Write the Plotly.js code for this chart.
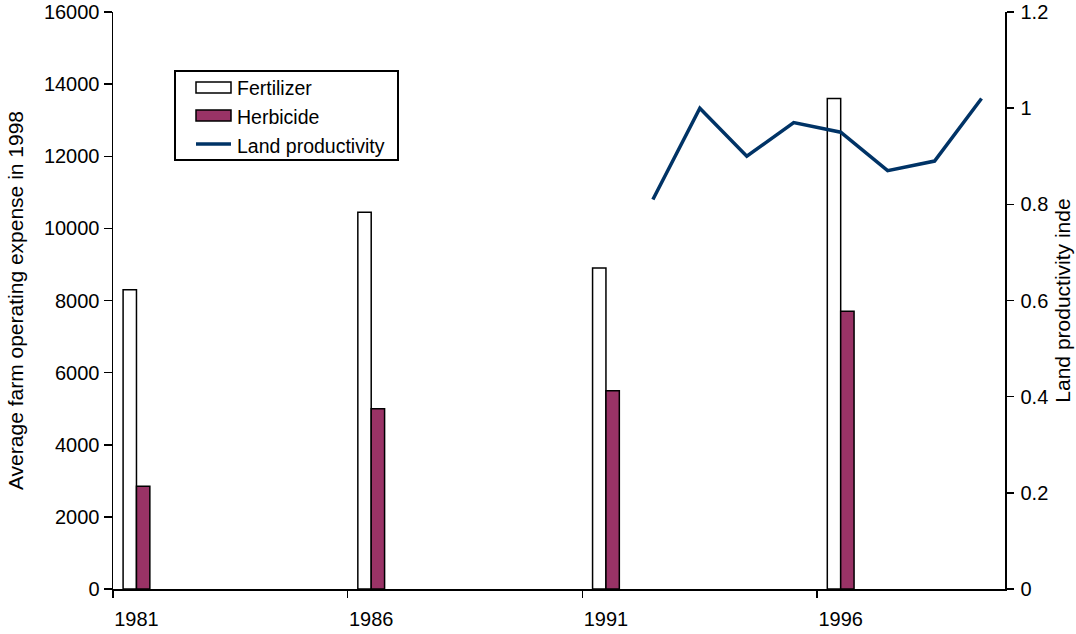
<!DOCTYPE html>
<html>
<head>
<meta charset="utf-8">
<script src="https://cdn.plot.ly/plotly-3.0.1.min.js"></script>
<style>
  html, body { margin: 0; padding: 0; background: #fff; }
  #chart { width: 1076px; height: 634px; }
</style>
</head>
<body>
<div id="chart"></div>
<script>
// Every year on the category axis
const years = ['1981','1982','1983','1984','1985','1986','1987','1988','1989','1990',
               '1991','1992','1993','1994','1995','1996','1997','1998','1999'];

// Survey years with expense data (left axis)
const surveyYears = ['1981', '1986', '1991', '1996'];
const fertilizer = [8300, 10450, 8900, 13600];
const herbicide  = [2850, 5000, 5500, 7700];

// Land productivity index (right axis)
const productivityYears = ['1992','1993','1994','1995','1996','1997','1998','1999'];
const productivity      = [0.81, 1.00, 0.90, 0.97, 0.95, 0.87, 0.89, 1.02];

const seriesNames = ['Fertilizer', 'Herbicide', 'Land productivity'];

const FONT = 'Liberation Sans, Arial, Helvetica, sans-serif';
const PLUM = '#993366';
const NAVY = '#003366';

const traces = [
  {
    type: 'bar', name: seriesNames[0], x: surveyYears, y: fertilizer,
    marker: { color: '#ffffff', line: { color: '#000000', width: 1.5 } },
    showlegend: false, hoverinfo: 'skip'
  },
  {
    type: 'bar', name: seriesNames[1], x: surveyYears, y: herbicide,
    marker: { color: PLUM, line: { color: '#000000', width: 1.5 } },
    showlegend: false, hoverinfo: 'skip'
  },
  {
    type: 'scatter', mode: 'lines', name: seriesNames[2],
    x: productivityYears, y: productivity, yaxis: 'y2',
    line: { color: NAVY, width: 3.5 },
    showlegend: false, hoverinfo: 'skip'
  }
];

// Plot area in pixels, used to place the legend box in paper units
const L = 113, R = 1005, T = 12, B = 589;
const px = v => (v - L) / (R - L);
const py = v => (B - v) / (B - T);

const shapes = [
  // legend frame
  { type: 'rect', xref: 'paper', yref: 'paper',
    x0: px(175), x1: px(398), y0: py(160), y1: py(71),
    line: { color: '#000000', width: 2 }, fillcolor: '#ffffff', layer: 'above' },
  // fertilizer swatch
  { type: 'rect', xref: 'paper', yref: 'paper',
    x0: px(196), x1: px(231), y0: py(93), y1: py(82),
    line: { color: '#000000', width: 1.5 }, fillcolor: '#ffffff', layer: 'above' },
  // herbicide swatch
  { type: 'rect', xref: 'paper', yref: 'paper',
    x0: px(196), x1: px(231), y0: py(121), y1: py(110),
    line: { color: '#000000', width: 1.5 }, fillcolor: PLUM, layer: 'above' },
  // productivity swatch
  { type: 'line', xref: 'paper', yref: 'paper',
    x0: px(196), x1: px(231), y0: py(144), y1: py(144),
    line: { color: NAVY, width: 3.5 }, layer: 'above' }
];

const legendY = [88, 117, 146];
const annotations = seriesNames.map((name, i) => ({
  text: name, xref: 'paper', yref: 'paper',
  x: px(235), y: py(legendY[i]), xanchor: 'left', yanchor: 'middle',
  showarrow: false, font: { family: FONT, size: 19.5, color: '#000000' }
}));

const layout = {
  width: 1076, height: 634,
  margin: { l: L, r: 1076 - R, t: T, b: 634 - B },
  paper_bgcolor: '#ffffff', plot_bgcolor: '#ffffff',
  font: { family: FONT, size: 20, color: '#000000' },
  barmode: 'group', bargap: 0.43, bargroupgap: 0,
  showlegend: false,
  xaxis: {
    type: 'category', categoryorder: 'array', categoryarray: years,
    range: [-0.5, years.length - 0.5],
    tickmode: 'linear', tick0: 0, dtick: 5, tickson: 'boundaries',
    tickangle: 0, automargin: false, ticklabelstandoff: 11,
    ticks: 'outside', ticklen: 7, tickwidth: 1.5, tickcolor: '#000000',
    showline: true, linecolor: '#000000', linewidth: 1.5,
    showgrid: false, zeroline: false,
    tickfont: { family: FONT, size: 20, color: '#000000' }
  },
  yaxis: {
    range: [0, 16000], tickmode: 'linear', tick0: 0, dtick: 2000,
    tickformat: 'd', automargin: false,
    ticks: 'outside', ticklen: 8, tickwidth: 1.5, tickcolor: '#000000',
    showline: true, linecolor: '#000000', linewidth: 1.5,
    showgrid: false, zeroline: false,
    tickfont: { family: FONT, size: 20, color: '#000000' },
    title: { text: 'Average farm operating expense in 1998',
             font: { family: FONT, size: 21, color: '#000000' }, standoff: 14 }
  },
  yaxis2: {
    overlaying: 'y', side: 'right',
    range: [0, 1.2], tickmode: 'linear', tick0: 0, dtick: 0.2,
    automargin: false, ticklabelstandoff: 3,
    ticks: 'outside', ticklen: 7, tickwidth: 1.5, tickcolor: '#000000',
    showline: true, linecolor: '#000000', linewidth: 1.5,
    showgrid: false, zeroline: false,
    tickfont: { family: FONT, size: 20, color: '#000000' },
    title: { text: 'Land productivity inde',
             font: { family: FONT, size: 21, color: '#000000' }, standoff: 8 }
  },
  shapes: shapes,
  annotations: annotations
};

Plotly.newPlot('chart', traces, layout, { staticPlot: true, displayModeBar: false });
</script>
</body>
</html>
